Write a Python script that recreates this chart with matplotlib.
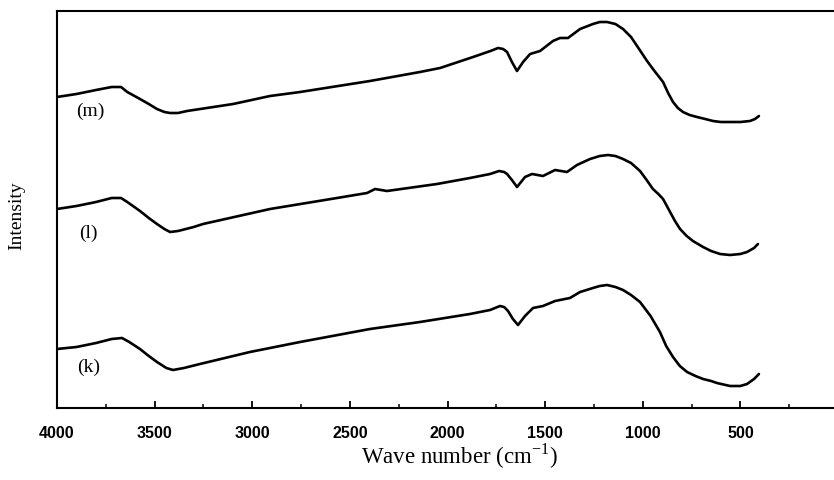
import numpy as np
import matplotlib
matplotlib.use("Agg")
import matplotlib.pyplot as plt
from matplotlib.ticker import MultipleLocator

# Спектры (интенсивность в условных единицах)
wn_m = [4000, 3900, 3800, 3720, 3672, 3640, 3575, 3530, 3488, 3450, 3421, 3380, 3334,
        3098, 2909, 2755, 2397, 2141, 2038, 1869, 1780, 1741, 1715, 1695, 1670, 1644,
        1613, 1577, 1526, 1460, 1424, 1383, 1321, 1255, 1220, 1183, 1140, 1101, 1060,
        1029, 978, 940, 896, 870, 845, 820, 794, 760, 722, 680, 640, 600, 553, 500,
        451, 425, 405]
int_m = [311, 314, 318, 321, 321, 316, 309, 304, 299, 296, 295, 295, 297,
         304, 312, 316, 327, 336, 340, 351, 357, 360, 359, 356, 346, 337,
         346, 354, 357, 367, 370, 370, 379, 384, 386, 386, 384, 379, 371,
         362, 347, 337, 326, 315, 306, 300, 296, 293, 291, 289, 287, 286, 286, 286,
         287, 289, 292]

wn_l = [4000, 3900, 3800, 3720, 3672, 3640, 3575, 3530, 3488, 3450, 3421, 3380, 3300,
        3252, 2909, 2566, 2412, 2371, 2310, 2054, 1885, 1782, 1736, 1710, 1695, 1670,
        1644, 1603, 1567, 1511, 1449, 1388, 1337, 1270, 1220, 1178, 1140, 1101, 1060,
        1014, 980, 948, 920, 896, 860, 835, 809, 775, 743, 691, 650, 604, 553, 500,
        466, 430, 410]
int_l = [199, 202, 206, 210, 210, 206, 197, 190, 184, 179, 176, 177, 181,
         184, 199, 210, 215, 219, 217, 224, 230, 234, 237, 236, 234, 228,
         221, 231, 234, 232, 238, 236, 243, 249, 252, 253, 252, 249, 245,
         237, 228, 219, 214, 209, 196, 187, 179, 172, 167, 161, 157, 154, 153, 154,
         156, 160, 164]

wn_k = [4000, 3900, 3800, 3720, 3667, 3630, 3575, 3530, 3488, 3440, 3406, 3350, 3268,
        3012, 2755, 2397, 2141, 1885, 1782, 1731, 1710, 1690, 1665, 1639, 1603, 1562,
        1511, 1449, 1373, 1321, 1255, 1220, 1183, 1140, 1101, 1060, 1014, 960, 912,
        880, 845, 810, 773, 730, 691, 650, 620, 553, 500, 466, 430, 405]
int_k = [59, 61, 65, 69, 70, 66, 59, 52, 46, 40, 38, 40, 44,
         56, 66, 79, 86, 94, 98, 102, 101, 97, 89, 83, 92, 100,
         102, 107, 110, 116, 120, 122, 123, 121, 118, 113, 106, 92, 76,
         62, 51, 42, 36, 32, 29, 27, 25, 22, 22, 24, 29, 34]

labels = ["(m)", "(l)", "(k)"]
label_pos = [(3830, 298), (3840, 176), (3840, 42)]

fig = plt.figure(figsize=(8.34, 4.81), dpi=100)
ax = fig.add_axes([57 / 834, 72 / 481, 781 / 834, 397 / 481])

for wn, y in [(wn_m, int_m), (wn_l, int_l), (wn_k, int_k)]:
    ax.plot(wn, y, color="black", lw=1.9, solid_joinstyle="round", solid_capstyle="round")

for lab, (x, y) in zip(labels, label_pos):
    ax.text(x, y, lab, fontsize=14, family="Liberation Serif", ha="center", va="center")

ax.set_xlim(4000, 0)
ax.set_ylim(0, 397)
ax.xaxis.set_major_locator(MultipleLocator(500))
ax.xaxis.set_minor_locator(MultipleLocator(250))
ax.tick_params(axis="x", which="major", direction="in", length=5, width=1.3, pad=12)
ax.tick_params(axis="x", which="minor", direction="in", length=3, width=1.1)
ax.set_yticks([])
for lbl in ax.get_xticklabels():
    lbl.set_fontfamily("Liberation Sans")
    lbl.set_fontweight("bold")
    lbl.set_fontsize(11.5)
for s in ax.spines.values():
    s.set_linewidth(1.5)
ax.spines["right"].set_visible(False)

ax.set_xlabel("Wave number (cm$^{\\mathregular{-1}}$)", fontsize=16.5,
              family="Liberation Serif", va="center")
ax.xaxis.set_label_coords(0.515, -0.118)
ax.set_ylabel("Intensity", fontsize=14, family="Liberation Serif")
ax.yaxis.set_label_coords(-0.041, 0.486)

fig.savefig("out.png", dpi=100)
